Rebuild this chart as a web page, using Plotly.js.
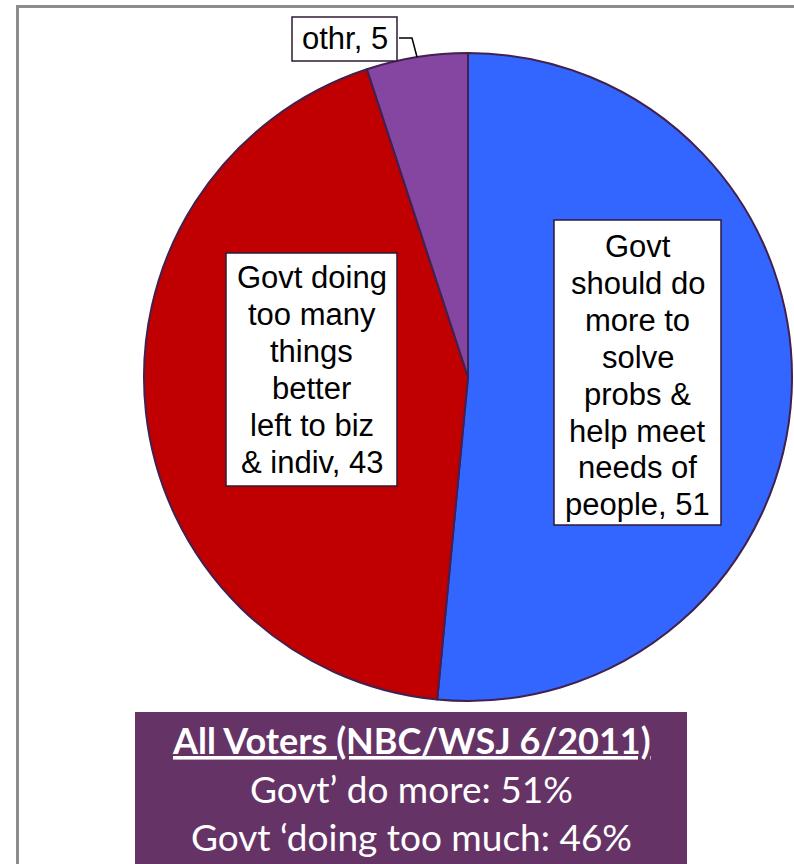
<!DOCTYPE html>
<html>
<head>
<meta charset="utf-8">
<script src="https://cdn.plot.ly/plotly-3.0.1.min.js"></script>
<style>html,body{margin:0;padding:0;background:#fff;}#chart{width:794px;height:864px;}</style>
</head>
<body>
<div id="chart"></div>
<script>
// ---- data ----
const categories = ["Govt should do more to solve probs & help meet needs of people",
                    "Govt doing too many things better left to biz & indiv",
                    "othr"];
const values = [51, 43, 5];
const labelLines = [
  ["Govt", "should do", "more to", "solve", "probs &", "help meet", "needs of", "people"],
  ["Govt doing", "too many", "things", "better", "left to biz", "& indiv"],
  ["othr"]
];
const summaryTitle = "All Voters (NBC/WSJ 6/2011)";
const summaryLines = ["Govt\u2019 do more: 51%", "Govt \u2018doing too much: 46%"];

// ---- styling / layout ----
const W = 794, H = 864;
const px = x => x / W;
const py = y => 1 - y / H;
const colors = ["#3366FF", "#C00000", "#8446A0"];
const edge = "#42204F";
const labelFont = {family: "Liberation Sans, Arial, sans-serif", size: 31, color: "#000"};
const lineGap = 37;
const labelBoxes = [
  {x0: 554, x1: 721, y0: 220, y1: 525, cx: 637.5, y: 246},
  {x0: 226, x1: 397, y0: 253, y1: 486, cx: 311.5, y: 277},
  {x0: 292, x1: 397, y0: 17, y1: 61, cx: 344.5, y: 39}
];

const cx = 468, cy = 377, R = 324;

const trace = {
  type: "pie",
  labels: categories,
  values: values,
  sort: false,
  direction: "clockwise",
  rotation: 0,
  textinfo: "none",
  hoverinfo: "label+value",
  showlegend: false,
  marker: {colors: colors, line: {color: edge, width: 2}},
  domain: {x: [px(cx - R), px(cx + R)], y: [py(cy + R), py(cy - R)]}
};

const shapes = [];
const annotations = [];

// outer gray frame
shapes.push({type: "rect", xref: "paper", yref: "paper", layer: "below",
  x0: px(17.5), x1: px(W + 20), y0: py(H + 20), y1: py(6.5),
  line: {color: "#8C8C8C", width: 3}, fillcolor: "rgba(0,0,0,0)"});

// label boxes + text
labelLines.forEach((lines, i) => {
  const b = labelBoxes[i];
  shapes.push({type: "rect", xref: "paper", yref: "paper",
    x0: px(b.x0), x1: px(b.x1), y0: py(b.y1), y1: py(b.y0),
    line: {color: "#2E1A36", width: 1.5}, fillcolor: "#FFFFFF"});
  lines.forEach((t, j) => {
    const txt = j === lines.length - 1 ? t + ", " + values[i] : t;
    annotations.push({xref: "paper", yref: "paper", x: px(b.cx), y: py(b.y + j * lineGap),
      xanchor: "center", yanchor: "middle", showarrow: false, text: txt, font: labelFont});
  });
});

// leader line for small slice
shapes.push({type: "path", xref: "paper", yref: "paper",
  path: `M ${px(399)} ${py(38)} L ${px(412)} ${py(38)} L ${px(417)} ${py(57)}`,
  line: {color: "#000", width: 1.5}});

// summary panel
shapes.push({type: "rect", xref: "paper", yref: "paper",
  x0: px(135), x1: px(687), y0: py(H + 20), y1: py(712),
  line: {width: 0}, fillcolor: "#663366"});
const sumTitleFont = {family: "Lato, 'Open Sans', sans-serif", size: 36, color: "#FFFFFF"};
const sumFont = {family: "Lato, 'Open Sans', sans-serif", size: 37, color: "#FFFFFF"};
annotations.push({xref: "paper", yref: "paper", x: px(411), y: py(740), xanchor: "center", yanchor: "middle",
  showarrow: false, text: "<b><u>" + summaryTitle + "</u></b>", font: sumTitleFont});
summaryLines.forEach((t, j) => {
  annotations.push({xref: "paper", yref: "paper", x: px(411), y: py(788 + j * 48), xanchor: "center", yanchor: "middle",
    showarrow: false, text: t, font: sumFont});
});

const layout = {
  width: W, height: H,
  margin: {l: 0, r: 0, t: 0, b: 0},
  paper_bgcolor: "#FFFFFF",
  plot_bgcolor: "#FFFFFF",
  shapes: shapes,
  annotations: annotations
};

Plotly.newPlot("chart", [trace], layout, {displayModeBar: false, staticPlot: true});
</script>
</body>
</html>
